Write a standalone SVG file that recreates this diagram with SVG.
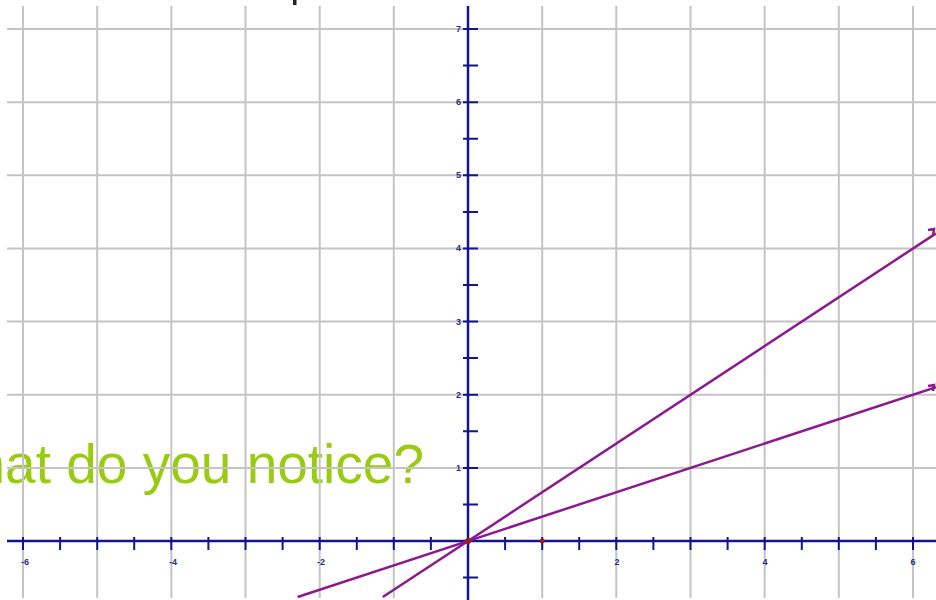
<svg xmlns="http://www.w3.org/2000/svg" width="936" height="600" viewBox="0 0 936 600">
<style>
.grid line{stroke:#c4c4c4;stroke-width:2}
.axis{stroke:#14148c;stroke-width:2.5;fill:none}
.tick{stroke:#14148c;stroke-width:2}
.lbl{font-family:"Liberation Sans",Arial,sans-serif;font-size:9px;font-weight:bold;fill:#2a2a8a}
.fn{stroke:#8a1a8e;stroke-width:2.5;fill:none}
.q{font-family:"Liberation Sans",Arial,sans-serif;font-size:55px;fill:#99cc11}
</style>
<rect width="936" height="600" fill="#ffffff"/>
<rect x="293" y="0" width="3.5" height="5" fill="#222"/>
<text class="q" x="424" y="483" text-anchor="end">What do you notice?</text>
<g class="grid" id="grid">
<line x1="23" y1="6" x2="23" y2="598"/>
<line x1="97.2" y1="6" x2="97.2" y2="598"/>
<line x1="171.3" y1="6" x2="171.3" y2="598"/>
<line x1="245.5" y1="6" x2="245.5" y2="598"/>
<line x1="319.7" y1="6" x2="319.7" y2="598"/>
<line x1="393.8" y1="6" x2="393.8" y2="598"/>
<line x1="542.2" y1="6" x2="542.2" y2="598"/>
<line x1="616.3" y1="6" x2="616.3" y2="598"/>
<line x1="690.5" y1="6" x2="690.5" y2="598"/>
<line x1="764.7" y1="6" x2="764.7" y2="598"/>
<line x1="838.8" y1="6" x2="838.8" y2="598"/>
<line x1="913" y1="6" x2="913" y2="598"/>
<line x1="7" y1="29" x2="936" y2="29"/>
<line x1="7" y1="102.2" x2="936" y2="102.2"/>
<line x1="7" y1="175.3" x2="936" y2="175.3"/>
<line x1="7" y1="248.4" x2="936" y2="248.4"/>
<line x1="7" y1="321.6" x2="936" y2="321.6"/>
<line x1="7" y1="394.7" x2="936" y2="394.7"/>
<line x1="7" y1="467.9" x2="936" y2="467.9"/>
</g>
<g id="axes">
<line class="axis" x1="7" y1="541" x2="936" y2="541"/>
<line class="axis" x1="468" y1="6" x2="468" y2="600"/>
<path class="tick" d="M23 537V550M60.1 537V550M97.2 537V550M134.2 537V550M171.3 537V550M208.4 537V550M245.5 537V550M282.6 537V550M319.7 537V550M356.8 537V550M393.8 537V550M430.9 537V550M505.1 537V550M542.2 537V550M579.2 537V550M616.3 537V550M653.4 537V550M690.5 537V550M727.6 537V550M764.7 537V550M801.8 537V550M838.8 537V550M875.9 537V550M913 537V550"/>
<path class="tick" d="M463 29H478M463 65.6H478M463 102.2H478M463 138.7H478M463 175.3H478M463 211.9H478M463 248.4H478M463 285H478M463 321.6H478M463 358.1H478M463 394.7H478M463 431.3H478M463 467.9H478M463 504.4H478M463 577.6H478"/>
<g class="lbl" text-anchor="middle">
<text x="25" y="565">-6</text>
<text x="173" y="565">-4</text>
<text x="321" y="565">-2</text>
<text x="617" y="565">2</text>
<text x="765" y="565">4</text>
<text x="913" y="565">6</text>
</g>
<g class="lbl" text-anchor="end">
<text x="461" y="32">7</text>
<text x="461" y="105.2">6</text>
<text x="461" y="178.3">5</text>
<text x="461" y="251.4">4</text>
<text x="461" y="324.6">3</text>
<text x="461" y="397.7">2</text>
<text x="461" y="470.9">1</text>
</g>
</g>
<g id="connectors">
<line class="fn" x1="297.6" y1="597" x2="936" y2="387.2"/>
<line class="fn" x1="382.8" y1="597" x2="936" y2="233.4"/>
<path class="fn" d="M928 230L934 229L933 235" stroke-width="1.5"/>
<path class="fn" d="M928 386L934 385L933 391" stroke-width="1.5"/>
</g>
<g id="points" fill="#a01818">
<circle cx="468" cy="541" r="3"/>
<circle cx="542.2" cy="541" r="2.5"/>
</g>
</svg>
